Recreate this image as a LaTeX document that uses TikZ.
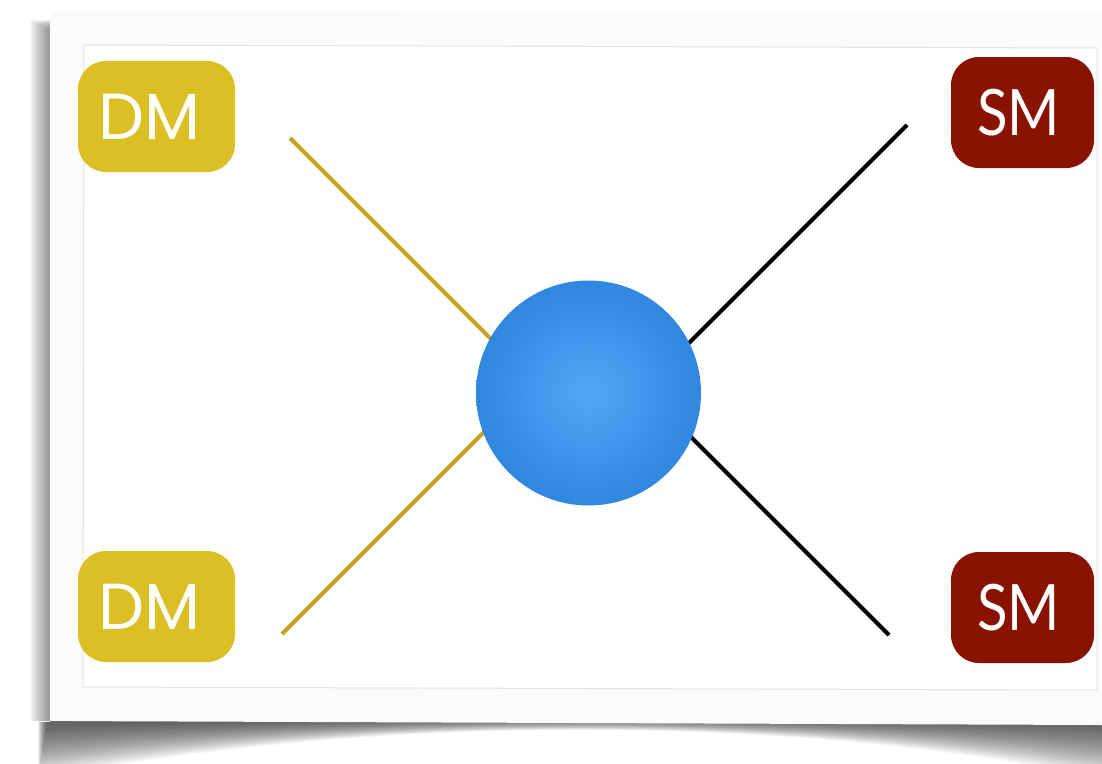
\documentclass[tikz,border=0pt]{standalone}
\usepackage{fontspec}
\newfontfamily\dmfont{Poppins}
\newfontfamily\smfont[FakeStretch=0.88]{Lato}
\definecolor{dmgold}{HTML}{DCBF25}
\definecolor{smred}{HTML}{8A1200}
\definecolor{goldline}{HTML}{C9A020}
\definecolor{blobin}{HTML}{52A8F8}
\definecolor{blobmid}{HTML}{3088E0}
\definecolor{blobout}{HTML}{1D74CE}
\definecolor{cardfill}{HTML}{FBFBFB}
\definecolor{cardedge}{HTML}{E2E2E2}
\pgfdeclareradialshading{blobshade}{\pgfpoint{0bp}{0bp}}{color(0bp)=(blobin); color(24bp)=(blobmid); color(50bp)=(blobout)}
\begin{document}
\begin{tikzpicture}[x=1pt,y=-1pt,
  dmbox/.style={fill=dmgold, rounded corners=28pt, minimum width=157pt, minimum height=111pt,
    text=white, inner sep=0pt, font=\dmfont\fontsize{65}{65}\selectfont},
  smbox/.style={fill=smred, rounded corners=28pt, minimum width=143pt, minimum height=111pt,
    text=white, inner sep=0pt, font=\smfont\fontsize{64}{64}\selectfont},
  goldleg/.style={draw=goldline, line width=4pt},
  blackleg/.style={draw=black, line width=4pt},
  blob/.style={circle, minimum size=225pt, inner sep=0pt, shading=blobshade}]
\useasboundingbox[fill=white] (0,0) rectangle (1102,763);
% shadows
\foreach \i in {0,...,23} {
  \fill[black,opacity=0.022] (30+\i,20+\i*0.5) -- (70,20) -- (70,721) -- (30+\i,721) -- cycle;
  \fill[black,opacity=0.035] (50,716) -- (1102,716) -- (1102,{778-2.3*\i})
     .. controls (900,{738-0.7*\i}) and (720,{730-0.45*\i}) .. (580,{730-0.45*\i})
     .. controls (440,{730-0.45*\i}) and (260,{738-0.7*\i}) .. ({38+0.4*\i},{778-2.3*\i})
     -- ({38+0.4*\i},722) -- (50,722) -- cycle;
}
% card
\fill[cardfill] (50,10) -- (1102,13) -- (1102,725) -- (50,721) -- cycle;
\filldraw[fill=white, draw=cardedge, line width=1pt] (84,45) -- (1097,48) -- (1097,690) -- (83,687) -- cycle;
% boxes
\node[dmbox] (dmA) at (156.5,116.5) {\hspace*{-14pt}DM};
\node[dmbox] (dmB) at (156.5,606.5) {\hspace*{-14pt}DM};
\node[smbox] (smA) at (1022.5,112.5) {\hspace*{-8pt}SM};
\node[smbox] (smB) at (1022.5,607.5) {\hspace*{-8pt}SM};
% legs
\coordinate (gA) at (290,138);
\coordinate (gB) at (282,634);
\coordinate (gv) at (534,382);
\coordinate (kA) at (907,125);
\coordinate (kB) at (889,635);
\coordinate (kv) at (643,389);
\draw[goldleg] (gA) -- (gv) -- (gB);
\draw[blackleg] (kA) -- (kv) -- (kB);
% blob
\node[blob] (core) at (588.5,393) {};
\end{tikzpicture}
\end{document}
